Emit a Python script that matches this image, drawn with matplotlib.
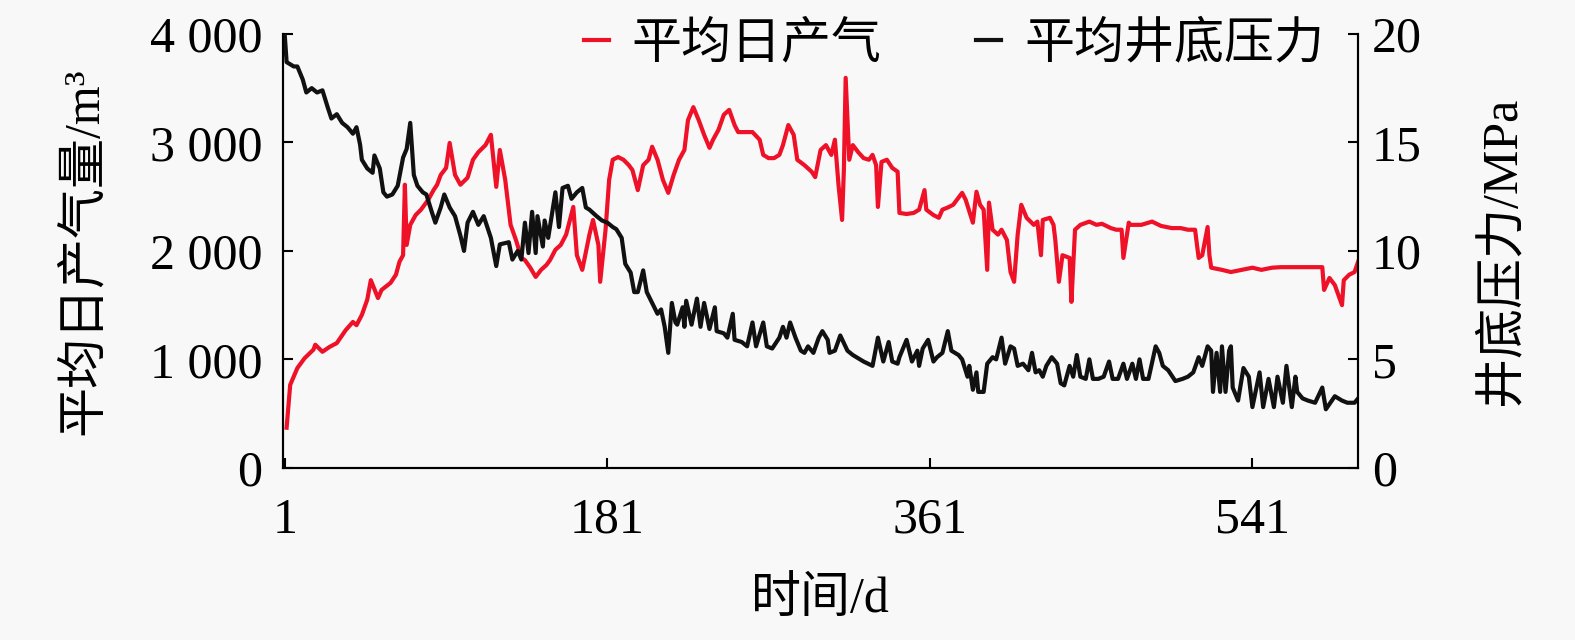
import numpy as np
import matplotlib
matplotlib.use('Agg')
import matplotlib.pyplot as plt
from matplotlib.ticker import FuncFormatter

plt.rcParams['font.family'] = ['Liberation Serif', 'Noto Sans CJK SC']
plt.rcParams['axes.unicode_minus'] = False

# 平均日产气 (m3)
gas_day = [2, 4, 8, 12, 17, 18, 22, 26, 30, 35,
           39, 41, 44, 47, 49, 53, 55, 60, 63, 65,
           67, 68, 69, 71, 74, 77, 81, 84, 86, 88,
           91, 93, 96, 99, 103, 106, 109, 113, 116, 119,
           121, 124, 127, 130, 133, 135, 138, 141, 144, 147,
           149, 152, 155, 158, 162, 164, 167, 171, 173, 176,
           177, 180, 182, 184, 187, 190, 193, 195, 198, 201,
           204, 206, 209, 212, 215, 218, 221, 224, 226, 229,
           232, 235, 238, 240, 243, 246, 249, 252, 254, 258,
           262, 266, 268, 271, 274, 277, 279, 282, 285, 287,
           291, 295, 297, 300, 303, 306, 308, 310, 312, 313,
           314, 316, 318, 321, 324, 327, 329, 331, 332, 334,
           337, 340, 343, 344, 348, 352, 355, 358, 359, 363,
           366, 368, 371, 374, 377, 379, 381, 385, 387, 389,
           391, 393, 394, 396, 399, 401, 404, 406, 408, 410,
           412, 415, 419, 421, 423, 424, 428, 430, 431, 433,
           435, 439, 440, 442, 445, 450, 454, 457, 462, 465,
           468, 469, 472, 473, 479, 485, 490, 496, 501, 505,
           509, 511, 513, 516, 517, 518, 524, 529, 535, 541,
           546, 552, 557, 563, 569, 580, 581, 584, 587, 591,
           592, 595, 598, 600]
gas_rate = [370, 765, 920, 1010, 1090, 1135, 1070, 1115, 1150, 1270,
            1345, 1315, 1410, 1550, 1730, 1565, 1640, 1705, 1780, 1900,
            1960, 2610, 2055, 2240, 2330, 2380, 2470, 2560, 2610, 2700,
            2765, 2995, 2700, 2610, 2675, 2840, 2910, 2975, 3070, 2590,
            2930, 2655, 2240, 2100, 1935, 1915, 1845, 1760, 1825, 1870,
            1915, 2010, 2055, 2150, 2405, 1960, 1825, 2150, 2285, 2055,
            1715, 2195, 2655, 2840, 2865, 2840, 2790, 2745, 2560, 2790,
            2840, 2960, 2840, 2655, 2535, 2700, 2840, 2930, 3205, 3325,
            3205, 3070, 2950, 3025, 3115, 3255, 3300, 3160, 3095, 3095,
            3095, 3025, 2885, 2855, 2855, 2885, 2975, 3160, 3070, 2840,
            2790, 2730, 2680, 2930, 2975, 2885, 3025, 2610, 2285, 2745,
            3595, 2840, 2975, 2910, 2855, 2840, 2885, 2790, 2405, 2820,
            2840, 2765, 2730, 2350, 2340, 2350, 2380, 2560, 2380, 2330,
            2305, 2380, 2400, 2425, 2490, 2535, 2470, 2260, 2545, 2425,
            2380, 1825, 2445, 2195, 2150, 2195, 2100, 1805, 1715, 2150,
            2425, 2305, 2240, 2270, 1960, 2285, 2305, 2240, 2100, 1715,
            1960, 1935, 1530, 2195, 2240, 2270, 2240, 2250, 2210, 2195,
            2195, 1935, 2260, 2240, 2240, 2270, 2230, 2210, 2210, 2195,
            2195, 1935, 1960, 2220, 1960, 1845, 1825, 1805, 1825, 1845,
            1825, 1845, 1850, 1850, 1850, 1850, 1640, 1750, 1685, 1500,
            1730, 1780, 1805, 1900]

# 平均井底压力 (MPa)
press_day = [1, 2, 6, 8, 11, 13, 16, 19, 22, 25,
             27, 30, 33, 36, 39, 41, 43, 44, 47, 50,
             51, 54, 56, 58, 61, 64, 67, 69, 71, 73,
             75, 78, 80, 83, 85, 88, 90, 93, 96, 99,
             101, 103, 106, 109, 112, 116, 119, 121, 126, 128,
             131, 133, 135, 137, 139, 141, 142, 145, 146, 148,
             152, 154, 156, 159, 161, 164, 167, 169, 171, 175,
             178, 181, 184, 186, 189, 191, 194, 196, 198, 201,
             203, 206, 209, 211, 213, 215, 217, 219, 220, 223,
             224, 225, 228, 231, 233, 235, 238, 241, 242, 246,
             248, 251, 252, 256, 259, 262, 264, 268, 270, 273,
             277, 279, 281, 283, 286, 289, 291, 293, 296, 299,
             301, 304, 305, 308, 311, 315, 318, 324, 329, 332,
             335, 338, 340, 343, 344, 348, 351, 354, 355, 357,
             360, 363, 365, 368, 371, 373, 377, 379, 382, 383,
             385, 387, 388, 391, 393, 396, 398, 401, 403, 406,
             408, 410, 413, 416, 418, 420, 422, 424, 426, 429,
             432, 434, 436, 439, 441, 443, 445, 448, 450, 452,
             455, 458, 461, 463, 466, 469, 471, 474, 476, 478,
             480, 483, 487, 489, 491, 494, 498, 502, 505, 508,
             511, 513, 516, 518, 519, 521, 523, 524, 526, 528,
             529, 530, 533, 536, 539, 541, 545, 547, 550, 553,
             555, 558, 560, 563, 565, 566, 569, 572, 576, 580,
             582, 587, 591, 594, 598, 600]
press_val = [19.9, 18.7, 18.5, 18.5, 17.9, 17.3, 17.5, 17.3, 17.4, 16.6,
             16.1, 16.3, 15.9, 15.7, 15.4, 15.7, 14.9, 14.2, 13.8, 13.6,
             14.4, 13.8, 12.7, 12.5, 12.6, 13.0, 14.3, 14.7, 15.9, 13.5,
             13.0, 12.7, 12.6, 11.8, 11.3, 12.0, 12.6, 12.0, 11.6, 10.7,
             10.0, 11.3, 11.8, 11.2, 11.6, 10.6, 9.3, 10.3, 10.4, 9.6,
             10.0, 9.6, 11.3, 9.9, 11.8, 9.9, 11.6, 10.2, 11.4, 10.6,
             12.7, 11.1, 12.9, 13.0, 12.4, 12.7, 12.9, 12.0, 11.9, 11.6,
             11.4, 11.3, 11.1, 11.0, 10.6, 9.4, 9.0, 8.1, 8.1, 9.1,
             8.1, 7.6, 7.1, 7.3, 6.5, 5.3, 7.6, 6.7, 6.6, 7.4,
             6.5, 7.7, 6.6, 7.8, 6.5, 7.6, 6.4, 7.4, 6.3, 6.2,
             6.0, 7.1, 5.9, 5.8, 5.6, 6.7, 5.6, 6.7, 5.6, 5.5,
             6.0, 6.5, 6.0, 6.7, 6.0, 5.4, 5.3, 5.6, 5.3, 6.0,
             6.3, 5.9, 5.3, 5.4, 6.1, 5.4, 5.2, 4.9, 4.7, 6.0,
             4.9, 5.8, 4.9, 4.8, 5.1, 5.9, 4.9, 5.4, 4.7, 5.5,
             5.9, 4.9, 5.1, 5.3, 6.3, 5.4, 5.2, 5.0, 4.2, 4.7,
             3.6, 4.4, 3.5, 3.5, 4.8, 5.1, 5.0, 6.0, 4.8, 5.6,
             5.5, 4.7, 4.8, 4.5, 5.3, 4.4, 4.5, 4.2, 4.7, 5.1,
             4.8, 3.9, 3.8, 4.7, 4.2, 5.2, 4.2, 4.1, 5.0, 4.1,
             4.1, 4.2, 4.9, 4.1, 4.1, 4.8, 4.1, 4.8, 4.1, 5.0,
             4.1, 4.1, 5.6, 5.3, 4.7, 4.5, 4.0, 4.1, 4.2, 4.4,
             5.1, 4.7, 5.6, 5.4, 3.5, 5.3, 3.5, 5.6, 3.5, 5.4,
             5.6, 3.7, 3.1, 4.6, 4.2, 2.8, 4.4, 2.8, 4.1, 2.8,
             4.2, 3.0, 4.7, 2.8, 4.2, 3.5, 3.2, 3.1, 3.0, 3.7,
             2.7, 3.3, 3.1, 3.0, 3.0, 3.2]

x_ticks = [1, 181, 361, 541]
gas_ticks = [0, 1000, 2000, 3000, 4000]
press_ticks = [0, 5, 10, 15, 20]

bg = '#f8f8f8'
fig = plt.figure(figsize=(15.75, 6.4), dpi=100, facecolor=bg)
ax1 = fig.add_axes([0.1797, 0.269, 0.6826, 0.678])
ax1.set_facecolor(bg)
ax2 = ax1.twinx()

l1, = ax1.plot(gas_day, gas_rate, color='#ee1128', lw=3.0, label='平均日产气')
l2, = ax2.plot(press_day, press_val, color='#111111', lw=3.0, label='平均井底压力')

ax1.set_xlim(0, 600)
ax1.set_ylim(0, 4000)
ax2.set_ylim(0, 20)
ax1.set_xticks(x_ticks)
ax1.set_yticks(gas_ticks)
ax2.set_yticks(press_ticks)
ax1.yaxis.set_major_formatter(FuncFormatter(lambda v, p: f'{int(v):,}'.replace(',', ' ')))

for ax in (ax1, ax2):
    ax.spines['top'].set_visible(False)
    for s in ('left', 'right', 'bottom'):
        ax.spines[s].set_linewidth(1.5)
    ax.tick_params(direction='in', length=7, width=1.5, labelsize=36)
ax1.tick_params(axis='y', pad=15)
ax1.tick_params(axis='x', pad=21)
ax2.tick_params(axis='y', pad=10)

ax1.set_xlabel('时间/d', fontsize=36)
ax1.set_ylabel('平均日产气量/m³', fontsize=36)
ax2.set_ylabel('井底压力/MPa', fontsize=36, rotation=90)
ax1.xaxis.set_label_coords(0.5, -0.25)
ax1.yaxis.set_label_coords(-0.163, 0.5)
ax2.yaxis.set_label_coords(1.112, 0.5)

leg = ax2.legend(handles=[l1, l2], loc='center', bbox_to_anchor=(0.624, 0.975),
                 ncol=2, frameon=False, fontsize=36, handlelength=0.5,
                 handletextpad=0.45, columnspacing=1.9, borderpad=0, borderaxespad=0)

fig.savefig('out.png', dpi=100, facecolor=bg)
